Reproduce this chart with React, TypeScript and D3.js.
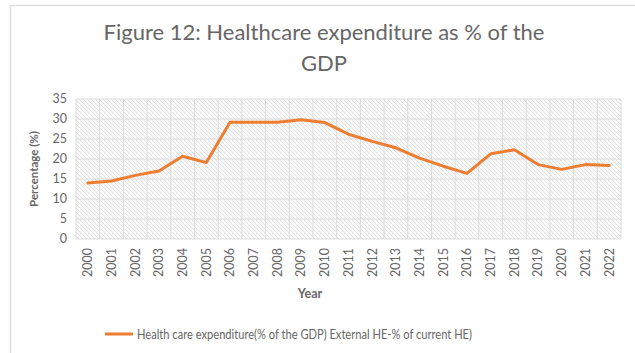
import React from "react";
import * as d3 from "d3";

const years = ["2000","2001","2002","2003","2004","2005","2006","2007","2008","2009","2010","2011","2012","2013","2014","2015","2016","2017","2018","2019","2020","2021","2022"];
const values = [14.0, 14.5, 15.9, 17.0, 20.7, 19.1, 29.2, 29.2, 29.2, 29.8, 29.1, 26.2, 24.4, 22.8, 20.2, 18.2, 16.4, 21.3, 22.3, 18.6, 17.4, 18.6, 18.4];
const yTicks = [0, 5, 10, 15, 20, 25, 30, 35];
const titleLines = ["Figure 12: Healthcare expenditure as % of the", "GDP"];
const seriesName = "Health care expenditure(% of the GDP) External HE-% of current HE)";

const W = 635, H = 353;
const plot = { left: 76, right: 621, top: 99, bottom: 239 };
const font = "Lato, 'Open Sans', sans-serif";
const textColor = "#666666";
const orange = "#ED7D31";

export default function App() {
  const x = d3.scaleBand<string>().domain(years).range([plot.left, plot.right]);
  const y = d3.scaleLinear().domain([0, 35]).range([plot.bottom, plot.top]);
  const line = d3.line<number>()
    .x((_, i) => (x(years[i]) as number) + x.bandwidth() / 2)
    .y((d) => y(d));
  const boundaries = years.map((yr) => x(yr) as number).concat([plot.right]);

  return (
    <div style={{ position: "absolute", left: 0, top: 0 }}>
      <svg width={W} height={H} style={{ display: "block", background: "#fff" }}>
        <defs>
          <pattern id="hatch" patternUnits="userSpaceOnUse" width="4" height="4">
            <rect width="4" height="4" fill="#fbfbfb" />
            <path d="M-1,-1 L5,5 M-1,3 L1,5 M3,-1 L5,1" stroke="#e0e0e0" strokeWidth="1" />
          </pattern>
        </defs>
        <rect x={10.5} y={5.5} width={640} height={360} fill="#fff" stroke="#dedede" strokeWidth={1.5} />
        {titleLines.map((t, i) => (
          <text key={i} x={324} y={40 + i * 31} textAnchor="middle" fontFamily={font} fontSize={22} fill={textColor}>{t}</text>
        ))}
        <rect x={plot.left} y={plot.top} width={plot.right - plot.left} height={plot.bottom - plot.top} fill="url(#hatch)" />
        {yTicks.map((t) => (
          <line key={"h" + t} x1={plot.left} x2={plot.right} y1={y(t)} y2={y(t)} stroke="#dcdcdc" strokeWidth={1} />
        ))}
        {boundaries.map((bx, i) => (
          <line key={"v" + i} x1={bx} x2={bx} y1={plot.top} y2={plot.bottom} stroke="#dcdcdc" strokeWidth={1} />
        ))}
        {yTicks.map((t) => (
          <text key={"yt" + t} x={67} y={y(t)} dy="0.35em" textAnchor="end" fontFamily={font} fontSize={12.5} fill={textColor}>{t}</text>
        ))}
        {years.map((yr) => {
          const cx = (x(yr) as number) + x.bandwidth() / 2;
          return (
            <text key={yr} transform={`translate(${cx},248) rotate(-90)`} dy="0.35em" textAnchor="end" fontFamily={font} fontSize={12.5} fill={textColor}>{yr}</text>
          );
        })}
        <text transform={`translate(38,169) rotate(-90)`} textAnchor="middle" fontFamily={font} fontSize={11.5} fontWeight="bold" fill={textColor}>Percentage (%)</text>
        <text x={310} y={298} textAnchor="middle" fontFamily={font} fontSize={12.5} fontWeight="bold" fill={textColor}>Year</text>
        <path d={line(values) || ""} fill="none" stroke={orange} strokeWidth={3} strokeLinejoin="round" strokeLinecap="round" />
        <line x1={105} x2={133} y1={334} y2={334} stroke={orange} strokeWidth={3} />
        <text x={137} y={334} dy="0.35em" fontFamily={font} fontSize={13} fill={textColor} textLength={335} lengthAdjust="spacingAndGlyphs">{seriesName}</text>
      </svg>
    </div>
  );
}
